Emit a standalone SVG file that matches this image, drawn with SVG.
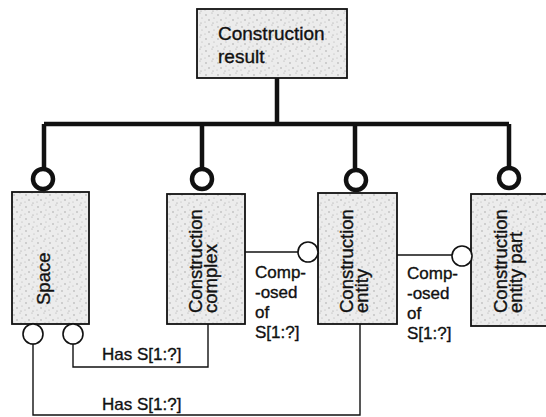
<svg xmlns="http://www.w3.org/2000/svg" width="546" height="417" viewBox="0 0 546 417">
<style>
.box{fill:url(#stip);stroke:#111;stroke-width:1.8}
.t{font-family:"Liberation Sans",Arial,sans-serif;fill:#111;stroke:#111;stroke-width:0.35}
.bt{font-size:18.5px}
.lt{font-size:17px}
.thick{fill:none;stroke:#111;stroke-width:4.5}
.thin{fill:none;stroke:#111;stroke-width:1.4}
.bc{fill:#fff;stroke:#111;stroke-width:4.5}
.sc{fill:#fff;stroke:#111;stroke-width:1.6}
</style>
<defs>
<pattern id="stip" width="12" height="12" patternUnits="userSpaceOnUse">
<rect width="12" height="12" fill="#ececec"/>
<circle cx="2" cy="3" r="0.7" fill="#999"/>
<circle cx="8" cy="1" r="0.6" fill="#aaa"/>
<circle cx="5" cy="8" r="0.7" fill="#999"/>
<circle cx="10" cy="6" r="0.6" fill="#b0b0b0"/>
<circle cx="1" cy="10" r="0.5" fill="#aaa"/>
<circle cx="9" cy="11" r="0.6" fill="#999"/>
</pattern>
</defs>
<rect width="546" height="417" fill="#fff"/>
<g id="connectors">
<path class="thick" d="M277 78 V124 M44 124 H509 M44 124 V168 M202 124 V168 M355 124 V168 M509 124 V167"/>
<path class="thin" d="M73 343 V367 H208 V324"/>
<path class="thin" d="M33 343 V415 H360 V324"/>
<path class="thin" d="M245 252 H299"/>
<path class="thin" d="M397 255 H452"/>
<circle class="bc" cx="43" cy="179" r="10"/>
<circle class="bc" cx="202" cy="179" r="10"/>
<circle class="bc" cx="356" cy="180" r="10"/>
<circle class="bc" cx="509" cy="178" r="10"/>
<text class="t lt" x="102" y="360">Has S[1:?]</text>
<text class="t lt" x="102" y="410">Has S[1:?]</text>
<text class="t lt"><tspan x="255" y="278">Comp-</tspan><tspan x="255" y="298">-osed</tspan><tspan x="255" y="318">of</tspan><tspan x="255" y="338">S[1:?]</tspan></text>
<text class="t lt"><tspan x="407" y="279">Comp-</tspan><tspan x="407" y="299">-osed</tspan><tspan x="407" y="319">of</tspan><tspan x="407" y="339">S[1:?]</tspan></text>
</g>
<g id="construction-result">
<rect class="box" x="197" y="9" width="150" height="69"/>
<text class="t" font-size="19"><tspan x="218" y="40">Construction</tspan><tspan x="218" y="63">result</tspan></text>
</g>
<g id="space">
<rect class="box" x="12" y="192" width="77" height="132"/>
<text class="t bt" transform="translate(50,305) rotate(-90)">Space</text>
<circle class="sc" cx="33" cy="334" r="10"/>
<circle class="sc" cx="73" cy="334" r="10"/>
</g>
<g id="construction-complex">
<rect class="box" x="167" y="194" width="78" height="130"/>
<text class="t bt" transform="translate(202,313) rotate(-90)"><tspan x="0" y="0">Construction</tspan><tspan x="0" y="15">complex</tspan></text>
</g>
<g id="construction-entity">
<rect class="box" x="318" y="193" width="79" height="131"/>
<text class="t bt" transform="translate(353,313) rotate(-90)"><tspan x="0" y="0">Construction</tspan><tspan x="0" y="15">entity</tspan></text>
<circle class="sc" cx="308" cy="252" r="10"/>
</g>
<g id="construction-entity-part">
<rect class="box" x="471" y="194" width="80" height="132"/>
<text class="t bt" transform="translate(507,313) rotate(-90)"><tspan x="0" y="0">Construction</tspan><tspan x="0" y="15">entity part</tspan></text>
<circle class="sc" cx="462" cy="256" r="10"/>
</g>
</svg>
